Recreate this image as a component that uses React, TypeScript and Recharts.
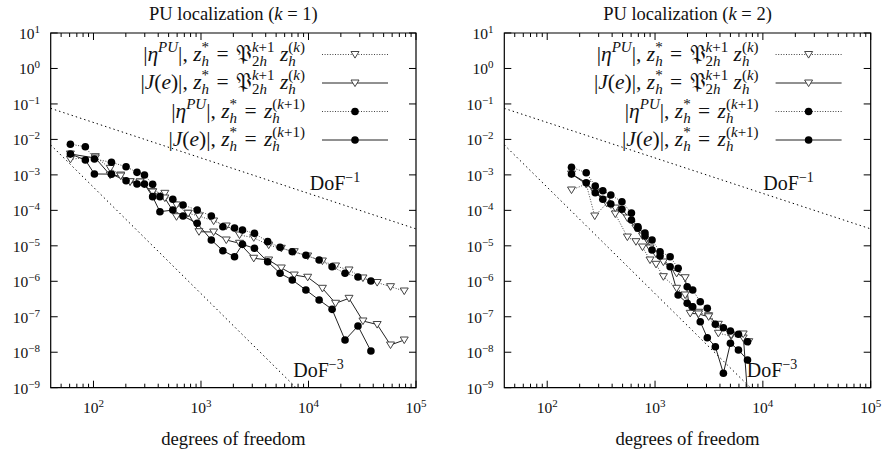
import React from 'react'
import { LineChart, Line, XAxis, YAxis, ReferenceArea } from 'recharts'

// PU localization, k = 1
const dofProjK1 = [61, 104, 143, 179, 219, 271, 355, 461, 592, 758, 958, 1311, 1719, 2282, 3095, 4262, 5588, 7373, 9831, 13480, 17860, 23820, 32100, 43540, 57940, 77770]
const etaProjK1 = [2.75e-3, 3.26e-3, 1.53e-3, 9.9e-4, 6.4e-4, 6.3e-4, 3.36e-4, 3.02e-4, 1.42e-4, 8.26e-5, 6.93e-5, 5.01e-5, 3.62e-5, 2.02e-5, 1.69e-5, 1.05e-5, 8.51e-6, 6.83e-6, 5.16e-6, 3.73e-6, 2.7e-6, 2.08e-6, 1.24e-6, 9.24e-7, 7.04e-7, 5.32e-7]
const errProjK1 = [3.88e-3, 2.99e-3, 9.9e-4, 9.3e-4, 6.42e-4, 6.3e-4, 3.29e-4, 2.23e-4, 6.62e-5, 8.26e-5, 2.5e-5, 2.45e-5, 1.46e-5, 1.18e-5, 4.45e-6, 3.98e-6, 2.37e-6, 1.5e-6, 1.3e-6, 6.34e-7, 2.4e-7, 3.31e-7, 7.6e-8, 6.05e-8, 1.6e-8, 2.21e-8]
const dofHighK1 = [61, 84, 102, 147, 201, 254, 298, 355, 415, 547, 681, 922, 1248, 1598, 2051, 2432, 3142, 4173, 5436, 7065, 9461, 12560, 16580, 21870, 28860, 38070]
const etaHighK1 = [7.28e-3, 6.23e-3, 2.8e-3, 2.26e-3, 1.7e-3, 1.18e-3, 9.92e-4, 5.43e-4, 2.43e-4, 2.05e-4, 1.42e-4, 1.02e-4, 6.93e-5, 3.46e-5, 3.18e-5, 2.79e-5, 2.25e-5, 1.31e-5, 9.08e-6, 6.83e-6, 5.4e-6, 3.98e-6, 2.58e-6, 1.68e-6, 1.32e-6, 1.02e-6]
const errHighK1 = [3.88e-3, 2.63e-3, 1.06e-3, 1.05e-3, 6.85e-4, 5.53e-4, 5.5e-4, 2.43e-4, 9.16e-5, 1.02e-4, 6.93e-5, 4.32e-5, 1.46e-5, 7.29e-6, 4.94e-6, 1.1e-5, 8.51e-6, 3.57e-6, 1.68e-6, 1.09e-6, 5.68e-7, 2.97e-7, 1.62e-7, 2.21e-8, 5.49e-8, 1.08e-8]

// PU localization, k = 2
const dofProjK2 = [168, 230, 276, 357, 428, 554, 665, 765, 898, 1022, 1195, 1586, 1904, 2120, 2533, 3140, 3865, 5076, 6568, 7404]
const etaProjK2 = [3.75e-4, 5.53e-4, 6.93e-5, 1.58e-4, 7.89e-5, 1.77e-5, 1.31e-5, 9.26e-6, 3.98e-6, 3.01e-6, 1.35e-6, 6.34e-7, 4.11e-7, 1.92e-7, 1.34e-7, 1.07e-7, 3.42e-8, 2.87e-8, 2.52e-8, 1.98e-8]
const errProjK2 = [1.06e-3, 5.53e-4, 3.29e-4, 1.96e-4, 1.16e-4, 6.09e-5, 3.18e-5, 1.89e-5, 8.68e-6, 5.88e-6, 3.5e-6, 1.68e-6, 1.26e-6, 1.25e-7, 1.2e-7, 1.0e-7, 6.13e-8, 3.06e-8, 3.27e-8, 2e-10]
const dofHighK2 = [168, 230, 279, 328, 389, 493, 604, 694, 807, 938, 1113, 1380, 1638, 1988, 2236, 2627, 3052, 3625, 4303, 5000, 5937, 7202]
const etaHighK2 = [1.64e-3, 1.15e-3, 4.86e-4, 3.58e-4, 2.71e-4, 1.75e-4, 8.42e-5, 3.12e-5, 2.3e-5, 1.46e-5, 6.83e-6, 4.94e-6, 2.32e-6, 7.04e-7, 5.68e-7, 2.66e-7, 1.73e-7, 6.13e-8, 4.91e-8, 3.97e-8, 3.2e-8, 1.98e-8]
const errHighK2 = [1.06e-3, 6.02e-4, 3.14e-4, 2.05e-4, 1.51e-4, 1.07e-4, 5.34e-5, 3.46e-5, 1.89e-5, 7.62e-6, 5.16e-6, 2.58e-6, 4.11e-7, 2.4e-7, 1.92e-7, 7.26e-8, 2.57e-8, 1.43e-8, 2.55e-9, 1.79e-8, 1.16e-8, 6.04e-9]

// reference slopes DoF^-1 and DoF^-3 (end points)
const rateDof = [40, 100000]
const rateOne = [7.5e-2, 3e-5]
const rateThree = [7.0e-3, 4.5e-13]

const xTicks = [50, 60, 70, 80, 90, 100, 200, 300, 400, 500, 600, 700, 800, 900, 1000, 2000, 3000, 4000, 5000, 6000, 7000, 8000, 9000, 10000, 20000, 30000, 40000, 50000, 60000, 70000, 80000, 90000, 100000]
const yTicks = [1e-9, 1e-8, 1e-7, 1e-6, 1e-5, 1e-4, 1e-3, 1e-2, 1e-1, 1, 10]

const SERIF = "'Liberation Serif', 'DejaVu Serif', serif"
const INK = '#111'
const CHART_W = 444
const CHART_H = 456
const PLOT_TOP = 33
const PLOT_BOTTOM = 387.7

// legend type sizes
const LG = 21.5
const LS = 15

type Pt = { x: number; y: number }
const zip = (xs: number[], ys: number[]): Pt[] => xs.map((x, i) => ({ x, y: ys[i] }))

type Piece = { t: string; it?: boolean; lv?: number; dx?: number }

function MathText({ x, y, pieces, anchor = 'start', size, small }: any) {
  let cur = 0
  return (
    <text x={x} y={y} textAnchor={anchor} fontSize={size} fontFamily={SERIF} fill={INK} style={{ whiteSpace: 'pre' }}>
      {pieces.map((p: Piece, i: number) => {
        const lv = p.lv ?? 0
        const target = lv === 1 ? -0.4 * size : lv === -1 ? 0.25 * size : 0
        const dy = target - cur
        cur = target
        return (
          <tspan key={i} dx={p.dx} dy={dy || undefined} fontSize={lv ? small : undefined} fontStyle={p.it ? 'italic' : undefined}>
            {p.t}
          </tspan>
        )
      })}
    </text>
  )
}

const expText = (e: number) => (e < 0 ? '\u2212' + Math.abs(e) : String(e))

// stacked scripts: narrower script first, then step back by its width
const zStar: Piece[] = [{ t: 'z', it: true }, { t: 'h', it: true, lv: -1 }, { t: '*', lv: 1, dx: -0.5 * LS }, { t: ' = ', dx: 2 }]
const projected: Piece[] = [
  { t: '\u{1D513}', dx: 2 }, { t: '2', lv: -1 }, { t: 'h', it: true, lv: -1 }, { t: 'k', it: true, lv: 1, dx: -1.0 * LS }, { t: '+1', lv: 1 },
  { t: ' ' }, { t: 'z', it: true }, { t: 'h', it: true, lv: -1 }, { t: '(', lv: 1, dx: -0.5 * LS }, { t: 'k', it: true, lv: 1 }, { t: ')', lv: 1 },
]
const higher: Piece[] = [{ t: 'z', it: true, dx: 2 }, { t: 'h', it: true, lv: -1 }, { t: '(', lv: 1, dx: -0.5 * LS }, { t: 'k', it: true, lv: 1 }, { t: '+1)', lv: 1 }]
const etaLabel: Piece[] = [{ t: '|' }, { t: '\u03B7', it: true }, { t: 'PU', it: true, lv: 1 }, { t: '|, ' }]
const errLabel: Piece[] = [{ t: '|' }, { t: 'J', it: true }, { t: '(' }, { t: 'e', it: true }, { t: ')|, ' }]

const legendRows = [
  { pieces: [...etaLabel, ...zStar, ...projected], dotted: true, marker: 'tri' },
  { pieces: [...errLabel, ...zStar, ...projected], dotted: false, marker: 'tri' },
  { pieces: [...etaLabel, ...zStar, ...higher], dotted: true, marker: 'circ' },
  { pieces: [...errLabel, ...zStar, ...higher], dotted: false, marker: 'circ' },
]
const legendY = [54.5, 83, 111.5, 140]

const DOTTED = '1 1.6'
const triPath = (cx: number, cy: number) => `M${cx - 4},${cy - 3} L${cx + 4},${cy - 3} L${cx},${cy + 3.6} Z`

const triDot = (p: any) =>
  p.cx == null || p.cy == null ? null : (
    <path key={`t${p.index}`} d={triPath(p.cx, p.cy)} fill="#fff" stroke="#444" strokeWidth={1} />
  )
const circDot = (p: any) =>
  p.cx == null || p.cy == null ? null : <circle key={`c${p.index}`} cx={p.cx} cy={p.cy} r={3.8} fill="#000" />

function Decor({ k, plotLeft, plotRight }: { k: number; plotLeft: number; plotRight: number }) {
  const mid = (plotLeft + plotRight) / 2
  const textEnd = plotLeft + 254.3
  const lineA = plotLeft + 271.3
  const lineB = plotLeft + 337.3
  const mark = plotLeft + 304.3
  return (
    <g>
      <MathText x={mid} y={19.5} anchor="middle" size={18.5} small={13}
        pieces={[{ t: 'PU localization (' }, { t: 'k', it: true }, { t: ` = ${k})` }]} />
      <text x={mid} y={445} textAnchor="middle" fontSize={18.7} fontFamily={SERIF} fill={INK}>degrees of freedom</text>
      <MathText x={plotLeft + 259} y={190} size={20} small={14} pieces={[{ t: 'DoF' }, { t: '\u22121', lv: 1 }]} />
      <MathText x={plotLeft + 242.5} y={376.7} size={20} small={14} pieces={[{ t: 'DoF' }, { t: '\u22123', lv: 1 }]} />
      {legendRows.map((row, i) => {
        const y = legendY[i]
        return (
          <g key={i}>
            <MathText x={textEnd} y={y + 6} anchor="end" size={LG} small={LS} pieces={row.pieces} />
            <line x1={lineA} x2={lineB} y1={y} y2={y} stroke={row.dotted ? '#444' : '#222'} strokeWidth={1}
              strokeDasharray={row.dotted ? DOTTED : undefined} />
            {row.marker === 'tri'
              ? <path d={triPath(mark, y)} fill="#fff" stroke="#444" strokeWidth={1} />
              : <circle cx={mark} cy={y} r={3.8} fill="#000" />}
          </g>
        )
      })}
    </g>
  )
}

type PanelProps = {
  k: number
  left: number
  axisW: number
  marginRight: number
  dofProj: number[]
  etaProj: number[]
  errProj: number[]
  dofHigh: number[]
  etaHigh: number[]
  errHigh: number[]
}

function Panel({ k, left, axisW, marginRight, dofProj, etaProj, errProj, dofHigh, etaHigh, errHigh }: PanelProps) {
  const plotLeft = axisW
  const plotRight = CHART_W - marginRight

  const xTick = ({ x, payload }: any) => {
    const e = Math.log10(payload.value)
    const major = Math.abs(e - Math.round(e)) < 1e-9
    const len = major ? 7 : 4
    return (
      <g>
        <line x1={x} x2={x} y1={PLOT_BOTTOM} y2={PLOT_BOTTOM - len} stroke="#000" />
        <line x1={x} x2={x} y1={PLOT_TOP} y2={PLOT_TOP + len} stroke="#000" />
        {major && (
          <MathText x={x} y={PLOT_BOTTOM + 25.6} anchor="middle" size={15.5} small={11}
            pieces={[{ t: '10' }, { t: expText(Math.round(e)), lv: 1 }]} />
        )}
      </g>
    )
  }

  const yTick = ({ y, payload }: any) => {
    const e = Math.round(Math.log10(payload.value))
    return (
      <g>
        <line x1={plotLeft} x2={plotLeft + 7} y1={y} y2={y} stroke="#000" />
        <line x1={plotRight - 7} x2={plotRight} y1={y} y2={y} stroke="#000" />
        <MathText x={plotLeft - 10.7} y={y + 6} anchor="end" size={15.5} small={11}
          pieces={[{ t: '10' }, { t: expText(e), lv: 1 }]} />
      </g>
    )
  }

  return (
    <div style={{ position: 'absolute', left, top: 0, width: CHART_W, height: CHART_H }}>
      <LineChart width={CHART_W} height={CHART_H} margin={{ top: PLOT_TOP, right: marginRight, bottom: 0, left: 0 }}>
        <XAxis dataKey="x" type="number" scale="log" domain={[40, 100000]} allowDataOverflow ticks={xTicks}
          interval={0} height={CHART_H - PLOT_BOTTOM} tickSize={0} tickMargin={0} tickLine={false} axisLine={false} tick={xTick} />
        <YAxis dataKey="y" type="number" scale="log" domain={[1e-9, 10]} allowDataOverflow ticks={yTicks}
          interval={0} width={axisW} tickSize={0} tickMargin={0} tickLine={false} axisLine={false} tick={yTick} />
        <ReferenceArea x1={40} x2={100000} y1={1e-9} y2={10} fill="none" stroke="#000" strokeWidth={1.2} ifOverflow="visible" />
        <Line data={zip(rateDof, rateOne)} dataKey="y" stroke="#000" strokeWidth={1} strokeDasharray="1.4 3"
          dot={false} activeDot={false} isAnimationActive={false} />
        <Line data={zip(rateDof, rateThree)} dataKey="y" stroke="#000" strokeWidth={1} strokeDasharray="1.4 3"
          dot={false} activeDot={false} isAnimationActive={false} />
        <Line data={zip(dofProj, etaProj)} dataKey="y" stroke="#444" strokeWidth={1} strokeDasharray={DOTTED}
          dot={triDot} activeDot={false} isAnimationActive={false} />
        <Line data={zip(dofProj, errProj)} dataKey="y" stroke="#222" strokeWidth={1}
          dot={triDot} activeDot={false} isAnimationActive={false} />
        <Line data={zip(dofHigh, etaHigh)} dataKey="y" stroke="#444" strokeWidth={1} strokeDasharray={DOTTED}
          dot={circDot} activeDot={false} isAnimationActive={false} />
        <Line data={zip(dofHigh, errHigh)} dataKey="y" stroke="#222" strokeWidth={1}
          dot={circDot} activeDot={false} isAnimationActive={false} />
        <Decor k={k} plotLeft={plotLeft} plotRight={plotRight} />
      </LineChart>
    </div>
  )
}

export default function App() {
  return (
    <div style={{ position: 'absolute', left: 0, top: 0, width: 889, height: 456, background: '#fff', overflow: 'hidden' }}>
      <Panel k={1} left={0} axisW={50.7} marginRight={28}
        dofProj={dofProjK1} etaProj={etaProjK1} errProj={errProjK1}
        dofHigh={dofHighK1} etaHigh={etaHighK1} errHigh={errHighK1} />
      <Panel k={2} left={445} axisW={59.3} marginRight={18.3}
        dofProj={dofProjK2} etaProj={etaProjK2} errProj={errProjK2}
        dofHigh={dofHighK2} etaHigh={etaHighK2} errHigh={errHighK2} />
    </div>
  )
}
